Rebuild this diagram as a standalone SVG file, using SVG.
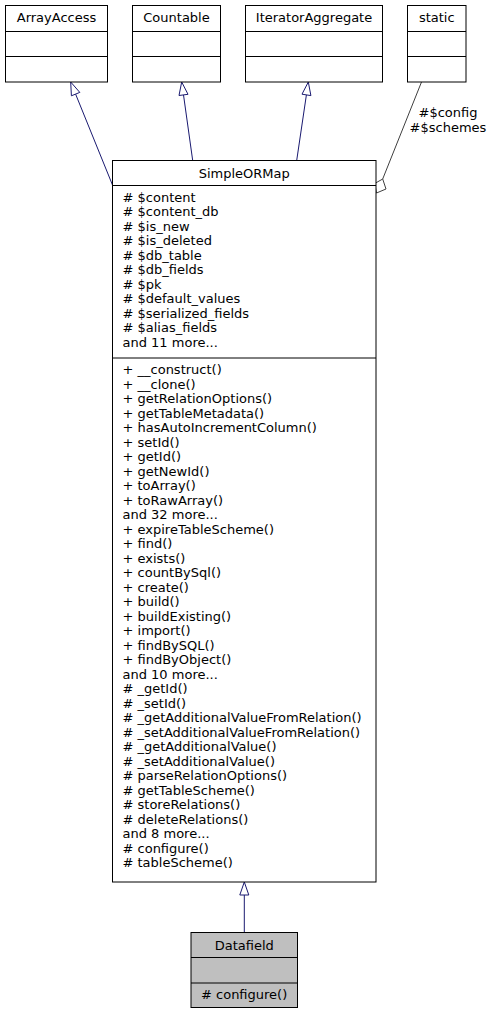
<svg xmlns="http://www.w3.org/2000/svg" width="491" height="1015" viewBox="0 0 491 1015">
<style>
text{font-family:"DejaVu Sans","Liberation Sans",sans-serif;font-size:13px;fill:#000}
.t{text-anchor:middle}
.box{fill:#fff;stroke:#000;stroke-width:1}
.grey{fill:#bfbfbf;stroke:#000;stroke-width:1}
.sep{stroke:#000;stroke-width:1;fill:none}
.inh{stroke:#191970;stroke-width:1;fill:none}
.head{stroke:#191970;stroke-width:1;fill:#fff}
.use{stroke:#404040;stroke-width:1;fill:none}
.dia{stroke:#404040;stroke-width:1;fill:#fff}
</style>
<rect width="491" height="1015" fill="#fff"/>
<g id="connectors">
<path class="inh" d="M112.7,185.5 L75.6,94.1"/>
<polygon class="head" points="70.7,82 79.8,92.4 71.4,95.8"/>
<path class="inh" d="M192.7,160.5 L183.5,94.9"/>
<polygon class="head" points="181.7,82 188,94.3 179,95.5"/>
<path class="inh" d="M296.7,160.5 L306.4,94.9"/>
<polygon class="head" points="308.3,82 310.9,95.6 302,94.2"/>
<path class="inh" d="M244.3,932.5 L244.3,895"/>
<polygon class="head" points="244.3,882 248.8,895 239.8,895"/>
<path class="use" d="M421.5,82 L382.7,179"/>
<polygon class="dia" points="382.7,179 386,189 376.5,193 374.7,183.5"/>
<text class="t" x="448" y="117">#$config</text>
<text class="t" x="448" y="131.5">#$schemes</text>
</g>
<g id="ArrayAccess">
<rect class="box" x="5.5" y="5.5" width="102" height="76.5"/>
<path class="sep" d="M5.5,31.5H107.5M5.5,56.5H107.5"/>
<text class="t" x="56.5" y="22">ArrayAccess</text>
</g>
<g id="Countable">
<rect class="box" x="132.5" y="5.5" width="88" height="76.5"/>
<path class="sep" d="M132.5,31.5H220.5M132.5,56.5H220.5"/>
<text class="t" x="176.5" y="22">Countable</text>
</g>
<g id="IteratorAggregate">
<rect class="box" x="245.5" y="5.5" width="137" height="76.5"/>
<path class="sep" d="M245.5,31.5H382.5M245.5,56.5H382.5"/>
<text class="t" x="314" y="22">IteratorAggregate</text>
</g>
<g id="static">
<rect class="box" x="407.5" y="5.5" width="58.5" height="76.5"/>
<path class="sep" d="M407.5,31.5H466M407.5,56.5H466"/>
<text class="t" x="436.75" y="22">static</text>
</g>
<g id="SimpleORMap">
<rect class="box" x="112.5" y="160.5" width="263.5" height="721.5"/>
<path class="sep" d="M112.5,185.5H376M112.5,358H376"/>
<text class="t" x="244.25" y="177.5">SimpleORMap</text>
<text x="122.5" y="201.5"># $content</text>
<text x="122.5" y="216"># $content_db</text>
<text x="122.5" y="230.5"># $is_new</text>
<text x="122.5" y="245"># $is_deleted</text>
<text x="122.5" y="259.5"># $db_table</text>
<text x="122.5" y="274"># $db_fields</text>
<text x="122.5" y="288.5"># $pk</text>
<text x="122.5" y="303"># $default_values</text>
<text x="122.5" y="317.5"># $serialized_fields</text>
<text x="122.5" y="332"># $alias_fields</text>
<text x="122.5" y="346.5">and 11 more...</text>
<text x="122.5" y="374">+ __construct()</text>
<text x="122.5" y="388.5">+ __clone()</text>
<text x="122.5" y="403">+ getRelationOptions()</text>
<text x="122.5" y="417.5">+ getTableMetadata()</text>
<text x="122.5" y="432">+ hasAutoIncrementColumn()</text>
<text x="122.5" y="446.5">+ setId()</text>
<text x="122.5" y="461">+ getId()</text>
<text x="122.5" y="475.5">+ getNewId()</text>
<text x="122.5" y="490">+ toArray()</text>
<text x="122.5" y="504.5">+ toRawArray()</text>
<text x="122.5" y="519">and 32 more...</text>
<text x="122.5" y="533.5">+ expireTableScheme()</text>
<text x="122.5" y="548">+ find()</text>
<text x="122.5" y="562.5">+ exists()</text>
<text x="122.5" y="577">+ countBySql()</text>
<text x="122.5" y="591.5">+ create()</text>
<text x="122.5" y="606">+ build()</text>
<text x="122.5" y="620.5">+ buildExisting()</text>
<text x="122.5" y="635">+ import()</text>
<text x="122.5" y="649.5">+ findBySQL()</text>
<text x="122.5" y="664">+ findByObject()</text>
<text x="122.5" y="678.5">and 10 more...</text>
<text x="122.5" y="693"># _getId()</text>
<text x="122.5" y="707.5"># _setId()</text>
<text x="122.5" y="722"># _getAdditionalValueFromRelation()</text>
<text x="122.5" y="736.5"># _setAdditionalValueFromRelation()</text>
<text x="122.5" y="751"># _getAdditionalValue()</text>
<text x="122.5" y="765.5"># _setAdditionalValue()</text>
<text x="122.5" y="780"># parseRelationOptions()</text>
<text x="122.5" y="794.5"># getTableScheme()</text>
<text x="122.5" y="809"># storeRelations()</text>
<text x="122.5" y="823.5"># deleteRelations()</text>
<text x="122.5" y="838">and 8 more...</text>
<text x="122.5" y="852.5"># configure()</text>
<text x="122.5" y="867"># tableScheme()</text>
</g>
<g id="Datafield">
<rect class="grey" x="191" y="932.5" width="106.5" height="75"/>
<path class="sep" d="M191,957.5H297.5M191,983H297.5"/>
<text class="t" x="244.25" y="949.5">Datafield</text>
<text x="201" y="998.5"># configure()</text>
</g>
</svg>
